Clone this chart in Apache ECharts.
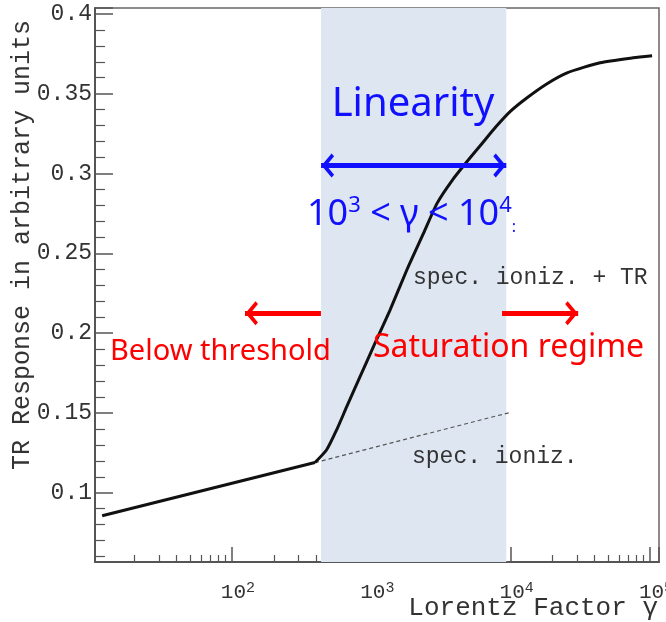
<!DOCTYPE html>
<html>
<head>
<meta charset="utf-8">
<script src="https://cdn.jsdelivr.net/npm/echarts@6/dist/echarts.min.js"></script>
<style>
  html, body { margin: 0; padding: 0; background: #fff; }
  #chart { width: 666px; height: 622px; }
</style>
</head>
<body>
<div id="chart"></div>
<script>
// TR response vs Lorentz factor
// below threshold part (straight) and the rising part up to saturation
var lowGamma  = [11.7, 394];
var lowResp   = [0.0856, 0.1189];
var riseGamma = [394, 478, 564, 666, 830, 1034, 1362, 1795, 2362, 2962, 3796, 4864, 6233, 7859, 9900, 13115, 18250, 25400, 43850, 75700, 103500];
var riseResp  = [0.1189, 0.1269, 0.1394, 0.1539, 0.1727, 0.1914, 0.2144, 0.2394, 0.2623, 0.2813, 0.2956, 0.3075, 0.3188, 0.3294, 0.3388, 0.3475, 0.3563, 0.3631, 0.3694, 0.3725, 0.3738];

// dashed "spec. ioniz." only line
var ionGamma = [394, 9900];
var ionResp  = [0.1189, 0.1503];

// linearity band and arrows
var bandRange   = [436, 9300];
var blueArrowY  = 0.305;
var redArrowY   = 0.2125;
var leftArrowX  = [435, 124];
var rightArrowX = [8670, 30500];

var xMin = 10.4, xMax = 116000;
var yMin = 0.0566, yMax = 0.4037;

var mono = 'Liberation Mono';
var sans = 'Noto Sans';

// chevron pointing up, tip in the middle of its box
var chevron = 'path://M0,-16 L0.01,-16 L0,-16 Z M0,0 L13,12 L10,15 L0,6 L-10,15 L-13,12 Z';

function pairs(xs, ys) {
  return xs.map(function (x, i) { return [x, ys[i]]; });
}

var chart = echarts.init(document.getElementById('chart'));

var option = {
  animation: false,
  backgroundColor: '#fff',
  grid: {
    left: 95, right: 7, top: 8, bottom: 60,
    outerBoundsMode: 'none',
    containLabel: false,
    show: true,
    borderColor: '#666',
    borderWidth: 1.5
  },
  xAxis: {
    type: 'log',
    logBase: 10,
    min: xMin,
    max: xMax,
    axisLine: { lineStyle: { color: '#555', width: 2 } },
    axisTick: { inside: true, length: 15, lineStyle: { color: '#555', width: 1.5 } },
    minorTick: { show: true, splitNumber: 9, length: 7, lineStyle: { color: '#555', width: 1.2 } },
    splitLine: { show: false },
    axisLabel: {
      margin: 19,
      showMinLabel: false,
      showMaxLabel: false,
      formatter: function (v) {
        var e = Math.round(Math.log(v) / Math.LN10);
        return '{a|10}{b|' + e + '}';
      },
      rich: {
        a: { fontFamily: mono, fontSize: 21, color: '#333', lineHeight: 22, padding: [0, 0, 0, 12] },
        b: { fontFamily: mono, fontSize: 15, color: '#333', verticalAlign: 'top', lineHeight: 14 }
      }
    }
  },
  yAxis: {
    type: 'value',
    min: yMin,
    max: yMax,
    splitNumber: 7,
    axisLine: { show: true, lineStyle: { color: '#555', width: 2 } },
    axisTick: { show: true, inside: true, length: 18, lineStyle: { color: '#555', width: 1.5 } },
    minorTick: { show: true, splitNumber: 5, length: 10, lineStyle: { color: '#555', width: 1.2 } },
    splitLine: { show: false },
    axisLabel: {
      margin: 3,
      showMinLabel: false,
      showMaxLabel: false,
      fontFamily: mono,
      fontSize: 23,
      color: '#333'
    }
  },
  series: [
    {
      name: 'spec. ioniz.',
      type: 'line',
      z: 1,
      data: pairs(ionGamma, ionResp),
      symbol: 'none',
      lineStyle: { color: '#555', width: 1.2, type: [4, 3] },
      markArea: {
        silent: true,
        itemStyle: { color: '#dde6f1' },
        data: [[{ xAxis: bandRange[0] }, { xAxis: bandRange[1] }]]
      }
    },
    {
      name: 'below threshold',
      type: 'line',
      z: 3,
      data: pairs(lowGamma, lowResp),
      symbol: 'none',
      lineStyle: { color: '#111', width: 3 }
    },
    {
      name: 'spec. ioniz. + TR',
      type: 'line',
      z: 3,
      data: pairs(riseGamma, riseResp),
      symbol: 'none',
      smooth: 0.2,
      lineStyle: { color: '#111', width: 3 },
      markLine: {
        silent: true,
        symbol: [chevron, chevron],
        symbolSize: [24, 26],
        label: { show: false },
        lineStyle: { color: '#1010ff', width: 5, type: 'solid' },
        data: [
          [{ coord: [bandRange[0], blueArrowY] }, { coord: [bandRange[1], blueArrowY] }]
        ]
      }
    },
    {
      name: 'arrows',
      type: 'line',
      z: 4,
      data: [],
      symbol: 'none',
      markLine: {
        silent: true,
        symbol: ['none', chevron],
        symbolSize: [24, 26],
        label: { show: false },
        lineStyle: { color: '#ff0000', width: 5, type: 'solid' },
        data: [
          [{ coord: [leftArrowX[0], redArrowY] }, { coord: [leftArrowX[1], redArrowY] }],
          [{ coord: [rightArrowX[0], redArrowY] }, { coord: [rightArrowX[1], redArrowY] }]
        ]
      }
    }
  ],
  graphic: [
    {
      type: 'text', x: 22, y: 245, rotation: Math.PI / 2,
      style: { text: 'TR Response in arbitrary units', font: '25px "' + mono + '"', fill: '#333', textAlign: 'center', textVerticalAlign: 'middle' }
    },
    {
      type: 'text', x: 658, y: 608,
      style: { text: 'Lorentz Factor \u03b3', font: '26px "' + mono + '"', fill: '#333', textAlign: 'right', textVerticalAlign: 'middle' }
    },
    {
      type: 'text', x: 413, y: 105, z: 10,
      style: { text: 'Linearity', font: '40px "' + sans + '"', fill: '#1010ff', textAlign: 'center', textVerticalAlign: 'middle' }
    },
    {
      type: 'text', x: 307, y: 215, z: 10,
      style: {
        text: '{n|10}{s|3}{n| < \u03b3 < 10}{s|4}{d|:}',
        textAlign: 'left', textVerticalAlign: 'middle',
        rich: {
          n: { fontFamily: sans, fontSize: 36, fill: '#1010ff', lineHeight: 40 },
          s: { fontFamily: sans, fontSize: 22, fill: '#1010ff', verticalAlign: 'top', lineHeight: 22 },
          d: { fontFamily: sans, fontSize: 16, fill: '#1010ff', verticalAlign: 'bottom', lineHeight: 16 }
        }
      }
    },
    {
      type: 'text', x: 413, y: 278, z: 10,
      style: { text: 'spec. ioniz. + TR', font: '23px "' + mono + '"', fill: '#333', textAlign: 'left', textVerticalAlign: 'middle' }
    },
    {
      type: 'text', x: 412, y: 457, z: 10,
      style: { text: 'spec. ioniz.', font: '23px "' + mono + '"', fill: '#333', textAlign: 'left', textVerticalAlign: 'middle' }
    },
    {
      type: 'text', x: 110, y: 352, z: 10,
      style: { text: 'Below threshold', font: '29px "' + sans + '"', fill: '#ff0000', textAlign: 'left', textVerticalAlign: 'middle' }
    },
    {
      type: 'text', x: 373, y: 348, z: 10,
      style: { text: 'Saturation regime', font: '32px "' + sans + '"', fill: '#ff0000', textAlign: 'left', textVerticalAlign: 'middle' }
    }
  ]
};

chart.setOption(option);

window.addEventListener('resize', function () {
  chart.resize();
});
</script>
</body>
</html>
